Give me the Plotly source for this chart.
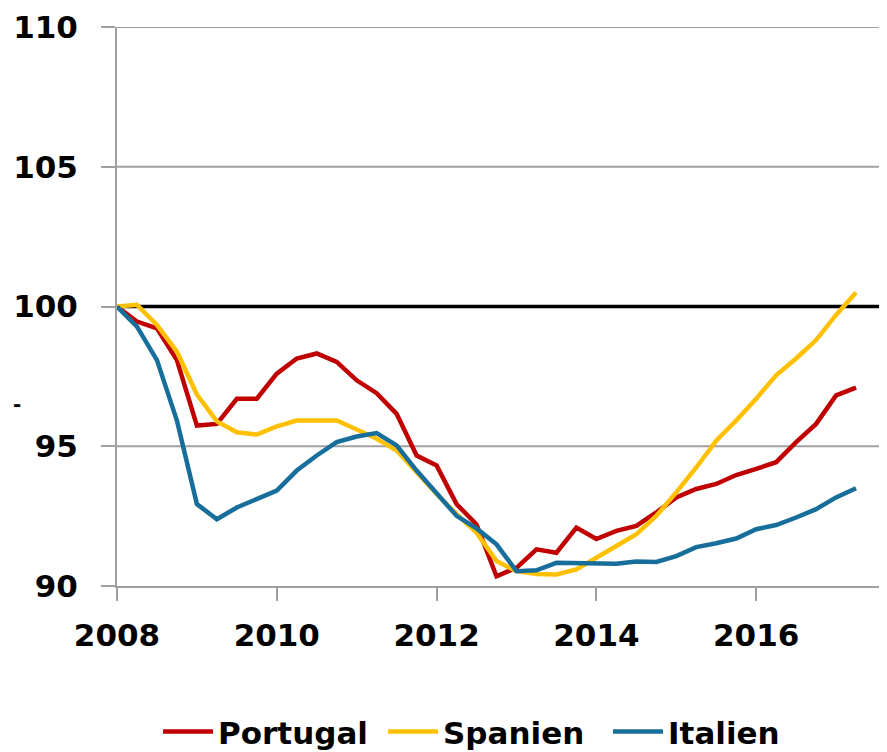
import plotly.graph_objects as go

# quarterly index, 2008Q1 = 100
years = [2008 + i * 0.25 for i in range(38)]

portugal = [100.0, 99.46, 99.22, 98.08, 95.74, 95.8, 96.7, 96.7, 97.6, 98.14,
            98.32, 98.02, 97.36, 96.9, 96.16, 94.67, 94.31, 92.93, 92.2, 90.35,
            90.65, 91.31, 91.19, 92.09, 91.68, 91.97, 92.15, 92.63, 93.17, 93.47,
            93.65, 93.97, 94.19, 94.43, 95.15, 95.8, 96.82, 97.1]

spanien = [100.0, 100.06, 99.34, 98.38, 96.85, 95.89, 95.5, 95.42, 95.71, 95.92,
           95.92, 95.92, 95.6, 95.27, 94.85, 94.06, 93.29, 92.57, 91.91, 90.89,
           90.53, 90.43, 90.41, 90.59, 91.03, 91.43, 91.85, 92.51, 93.35, 94.24,
           95.2, 95.92, 96.7, 97.54, 98.14, 98.8, 99.7, 100.5]

italien = [100.0, 99.28, 98.08, 95.92, 92.93, 92.39, 92.81, 93.11, 93.41, 94.13,
           94.67, 95.15, 95.35, 95.47, 95.03, 94.13, 93.29, 92.51, 92.06, 91.49,
           90.53, 90.56, 90.83, 90.83, 90.83, 90.8, 90.88, 90.86, 91.07, 91.39,
           91.53, 91.7, 92.03, 92.18, 92.45, 92.75, 93.17, 93.5]

x_ticks = [2008, 2010, 2012, 2014, 2016]
y_ticks = [90, 95, 100, 105, 110]
base_level = 100

series_names = ["Portugal", "Spanien", "Italien"]
colors = ["#C00000", "#FFC000", "#176E9B"]

FONT = dict(family="DejaVu Sans", size=31, color="#000000", weight="bold")
GRID = "#A0A0A0"
PAD = "\u00a0\u2009"

fig = go.Figure()
for name, vals, col in zip(series_names, [portugal, spanien, italien], colors):
    fig.add_trace(go.Scatter(x=years, y=vals, name=name, mode="lines",
                             line=dict(color=col, width=4.5)))

# horizontal grid lines (gray) and the black base line at 100
for v in y_ticks[1:]:
    if v == base_level:
        fig.add_shape(type="line", xref="paper", x0=0, x1=1, yref="y", y0=v, y1=v,
                      line=dict(color="#000000", width=3.5), layer="below")
    else:
        fig.add_shape(type="line", xref="paper", x0=0, x1=1, yref="y", y0=v, y1=v,
                      line=dict(color=GRID, width=1.8), layer="below")

# right border
fig.add_shape(type="line", xref="paper", x0=1, x1=1, yref="paper", y0=0, y1=1,
              line=dict(color="#000000", width=2.2), layer="above")

fig.add_annotation(text="-", xref="paper", yref="y", x=-0.138, y=96.5,
                   showarrow=False, font=dict(family="DejaVu Sans", size=20, color="#000000"))

fig.update_layout(
    width=879, height=744,
    margin=dict(l=109, r=3, t=19, b=166, autoexpand=False),
    paper_bgcolor="white", plot_bgcolor="white",
    font=FONT,
    showlegend=True,
    legend=dict(orientation="h", xref="paper", yref="paper", x=0.0535, xanchor="left",
                y=-0.261, yanchor="middle", font=FONT, itemwidth=50,
                entrywidth=160, entrywidthmode="pixels",
                tracegroupgap=0, traceorder="normal"),
    xaxis=dict(range=[2008, 2017.6], tickvals=x_ticks, ticktext=[str(v) for v in x_ticks],
               automargin=False,
               showgrid=False, zeroline=False, showline=True, linecolor=GRID, linewidth=1.8,
               ticks="outside", ticklen=13, tickwidth=1.8, tickcolor=GRID,
               ticklabelstandoff=8, tickfont=FONT),
    yaxis=dict(range=[90, 110], tickvals=y_ticks,
               ticktext=[str(v) + PAD for v in y_ticks],
               automargin=False,
               showgrid=False, zeroline=False,
               showline=True, linecolor=GRID, linewidth=1.8,
               ticks="outside", ticklen=14, tickwidth=1.8, tickcolor=GRID,
               tickfont=FONT),
)

fig.write_html("out.html")
